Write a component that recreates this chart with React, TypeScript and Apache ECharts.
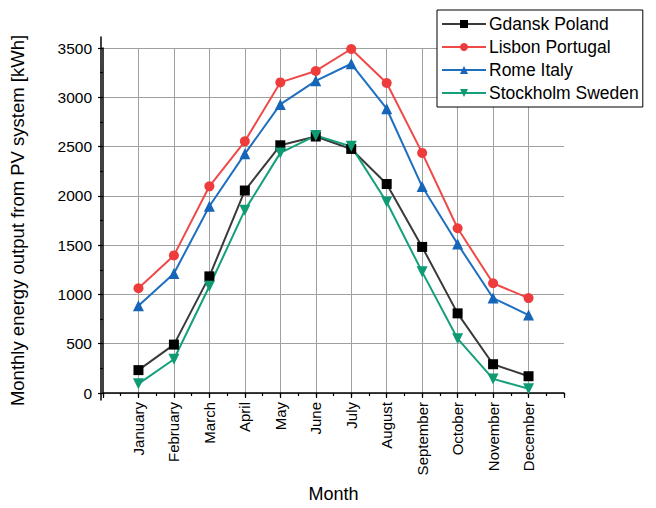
import React, { useEffect, useRef } from "react";
import * as echarts from "echarts";

const months = ["January", "February", "March", "April", "May", "June", "July", "August", "September", "October", "November", "December"];
const gdansk = [232, 491, 1183, 2054, 2513, 2602, 2476, 2120, 1482, 808, 292, 170];
const lisbon = [1063, 1396, 2097, 2553, 3151, 3267, 3490, 3145, 2436, 1671, 1113, 963];
const rome = [884, 1213, 1894, 2426, 2928, 3167, 3340, 2884, 2094, 1512, 963, 791];
const stockholm = [93, 342, 1083, 1855, 2436, 2612, 2502, 1937, 1229, 551, 143, 43];
const yTicks = { min: 0, max: 3500, interval: 500 };

const FONT = "Liberation Sans, Arial, sans-serif";

export default function App() {
  const ref = useRef<HTMLDivElement>(null);
  useEffect(() => {
    const el = ref.current!;
    const chart = echarts.init(el, null, { renderer: "svg", width: 656, height: 508 });
    const cats = ["", ...months, ""];
    const pad = (a: number[]) => [null, ...a, null];
    const mk = (name: string, data: number[], color: string, lineColor: string, symbol: string, size: number, rotate = 0) => ({
      name,
      type: "line",
      data: pad(data),
      symbol,
      symbolSize: size,
      symbolRotate: rotate,
      xAxisIndex: 0,
      yAxisIndex: 0,
      lineStyle: { color: lineColor, width: 2 },
      itemStyle: { color },
      z: 3,
    });
    chart.setOption({
      animation: false,
      backgroundColor: "#fff",
      grid: [
        { left: 101, right: 92, top: 48, bottom: 108 },
        { left: 101, right: 92, top: 37, bottom: 108 },
      ],
      legend: {
        left: 437,
        top: 10,
        orient: "vertical",
        backgroundColor: "#fff",
        borderColor: "#000",
        borderWidth: 1,
        borderRadius: 0,
        padding: [5, 4, 5, 4],
        itemGap: 5,
        itemWidth: 44,
        itemHeight: 10,
        textStyle: { fontFamily: FONT, fontSize: 17.5, color: "#000", padding: [0, 0, 0, -2] },
        data: ["Gdansk Poland", "Lisbon Portugal", "Rome Italy", "Stockholm Sweden"],
        z: 10,
      },
      xAxis: [
        {
          type: "category",
          gridIndex: 0,
          data: cats,
          boundaryGap: false,
          name: "Month",
          nameLocation: "middle",
          nameGap: 92,
          nameTextStyle: { fontFamily: FONT, fontSize: 18, color: "#000" },
          axisLine: { lineStyle: { color: "#000", width: 1.5 } },
          axisTick: { show: true, interval: 0, length: 5, lineStyle: { color: "#000", width: 1.2 } },
          axisLabel: { interval: 0, rotate: 90, fontFamily: FONT, fontSize: 15, color: "#000", margin: 9 },
          splitLine: {
            show: true,
            interval: (_i: number, v: string) => v !== "",
            lineStyle: { color: "#a0a0a0", width: 1 },
          },
        },
        { type: "category", gridIndex: 1, data: cats, show: false },
        {
          type: "value",
          gridIndex: 0,
          position: "bottom",
          min: 0,
          max: 13,
          interval: 0.5,
          axisLine: { show: false },
          axisTick: { show: true, length: 3, lineStyle: { color: "#000", width: 1.2 } },
          axisLabel: { show: false },
          splitLine: { show: false },
        },
      ],
      yAxis: [
        {
          type: "value",
          gridIndex: 0,
          min: yTicks.min,
          max: yTicks.max,
          interval: yTicks.interval,
          name: "Monthly energy output from PV system [kWh]",
          nameLocation: "middle",
          nameGap: 76,
          nameTextStyle: { fontFamily: FONT, fontSize: 18.5, color: "#000" },
          axisLine: { show: true, lineStyle: { color: "#000", width: 1.5 } },
          axisTick: { show: true, length: 5, lineStyle: { color: "#000", width: 1.2 } },
          minorTick: { show: true, splitNumber: 2, length: 3, lineStyle: { color: "#000", width: 1.2 } },
          axisLabel: { fontFamily: FONT, fontSize: 15.5, color: "#000", margin: 11, formatter: (v: number) => String(v) },
          splitLine: { show: true, lineStyle: { color: "#a0a0a0", width: 1 } },
        },
        {
          type: "value",
          gridIndex: 1,
          min: 0,
          max: 1,
          axisLine: { show: true, lineStyle: { color: "#000", width: 1.5 } },
          axisTick: { show: false },
          axisLabel: { show: false },
          splitLine: { show: false },
        },
      ],
      series: [
        mk("Gdansk Poland", gdansk, "#000000", "#3a3a3a", "rect", 10),
        mk("Lisbon Portugal", lisbon, "#ee3b3b", "#ef4a4a", "circle", 10),
        mk("Rome Italy", rome, "#1565b8", "#1f6fc0", "triangle", 11),
        mk("Stockholm Sweden", stockholm, "#0e9a73", "#14a07a", "triangle", 11, 180),
      ],
    });
    return () => chart.dispose();
  }, []);
  return <div ref={ref} style={{ position: "absolute", left: 0, top: 0, width: 656, height: 508 }} />;
}
